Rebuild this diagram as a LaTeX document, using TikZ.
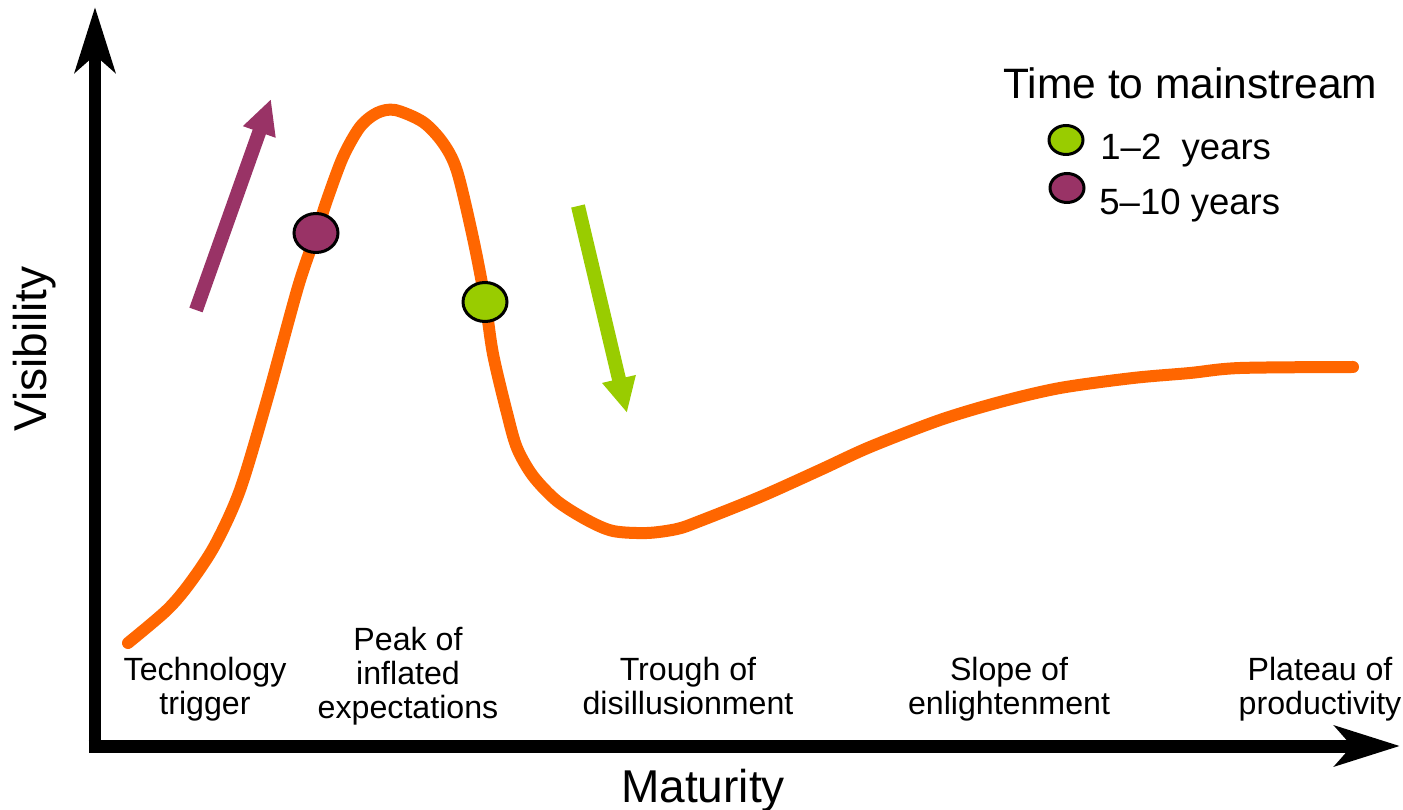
\documentclass[tikz,border=0pt]{standalone}
\usepackage{fontspec}
\setmainfont{Liberation Sans}
\definecolor{hype}{HTML}{FF6600}
\definecolor{slow}{HTML}{993366}
\definecolor{fast}{HTML}{99CC00}
\tikzstyle{axis}=[line width=0.26cm,-{Stealth[length=1.3cm,width=0.8cm,inset=0.34cm]}]
\tikzstyle{curve}=[line width=0.24cm,draw=hype,line cap=round,line join=round]
\tikzstyle{trend}=[line width=0.28cm,-{Triangle[length=0.7cm,width=0.64cm]}]
\tikzstyle{dot}=[ellipse,draw=black,line width=0.06cm,inner sep=0pt,
minimum width=0.88cm,minimum height=0.78cm]
\tikzstyle{keydot}=[dot,minimum width=0.68cm,minimum height=0.58cm]
\tikzstyle{phase}=[align=center,anchor=north,inner sep=0pt,
font=\fontsize{18.3pt}{19.3pt}\selectfont]
\tikzstyle{keytext}=[anchor=base west,inner sep=0pt,font=\fontsize{20.8pt}{24pt}\selectfont]
\tikzstyle{axislabel}=[inner sep=0pt,font=\fontsize{26.2pt}{30pt}\selectfont]
\usetikzlibrary{arrows.meta,positioning,shapes}

\begin{document}
\begin{tikzpicture}[x=0.02cm,y=-0.02cm]
            \useasboundingbox (0,0) rectangle (1403,810);

            % AXES PART

            \coordinate (O) at (95,746);
            \coordinate (ytip) at (95,7);
            \coordinate (xtip) at (1400,746);
            \draw[axis] ([yshift=-0.13cm]O) -- (ytip);
            \draw[axis] ([xshift=-0.13cm]O) -- (xtip);

            \node[axislabel,anchor=base] (mat) at (703,802) {Maturity};
            \node[axislabel,rotate=90] (vis) at (35,349) {Visibility};

            % CURVE PART

            \draw[curve] plot[smooth] coordinates {(128,643) (167,610) (190,583)
                (215,545) (240,490) (267,400) (298,287) (316,234) (327,200)
                (343,157) (360,127) (377,113) (395,110) (423,122) (443,143)
                (457,171) (473,238) (485,300) (493,354) (507,413) (517,448)
                (533,476) (557,501) (587,520) (613,531) (647,533) (677,529)
                (700,521) (760,497) (820,470) (870,447) (940,420) (1000,402)
                (1060,388) (1133,378) (1190,373) (1240,368) (1353,367)};

            \node[dot,fill=slow] (slowdot) at (316,233) {};
            \node[dot,fill=fast] (fastdot) at (485,302) {};

            % TREND ARROWS

            \coordinate (up0) at (196,310);
            \coordinate (up1) at (271,99);
            \coordinate (down0) at (578,206);
            \coordinate (down1) at (627,413);
            \draw[trend,draw=slow,fill=slow] (up0) -- (up1);
            \draw[trend,draw=fast,fill=fast] (down0) -- (down1);

            % PHASES

            \node[phase] (trigger) at (205,657) {Technology\\trigger};
            \node[phase] (peak) at (408,627) {Peak of\\inflated\\expectations};
            \node[phase] (trough) at (688,657) {Trough of\\disillusionment};
            \node[phase] (slope) at (1009,657) {Slope of\\enlightenment};
            \node[phase] (plateau) at (1320,657) {Plateau of\\productivity};

            % LEGEND PART

            \node[anchor=base west,inner sep=0pt,font=\fontsize{24.2pt}{28pt}\selectfont]
                (title) at (1003,99) {Time to mainstream};
            \node[keydot,fill=fast] (fastkey) at (1066,140) {};
            \node[keydot,fill=slow] (slowkey) at (1067,188) {};
            \node[keytext] (fasttext) at (1100,160) {1--2~~years};
            \node[keytext] (slowtext) at (1099,215) {5--10 years};

\end{tikzpicture}
\end{document}
